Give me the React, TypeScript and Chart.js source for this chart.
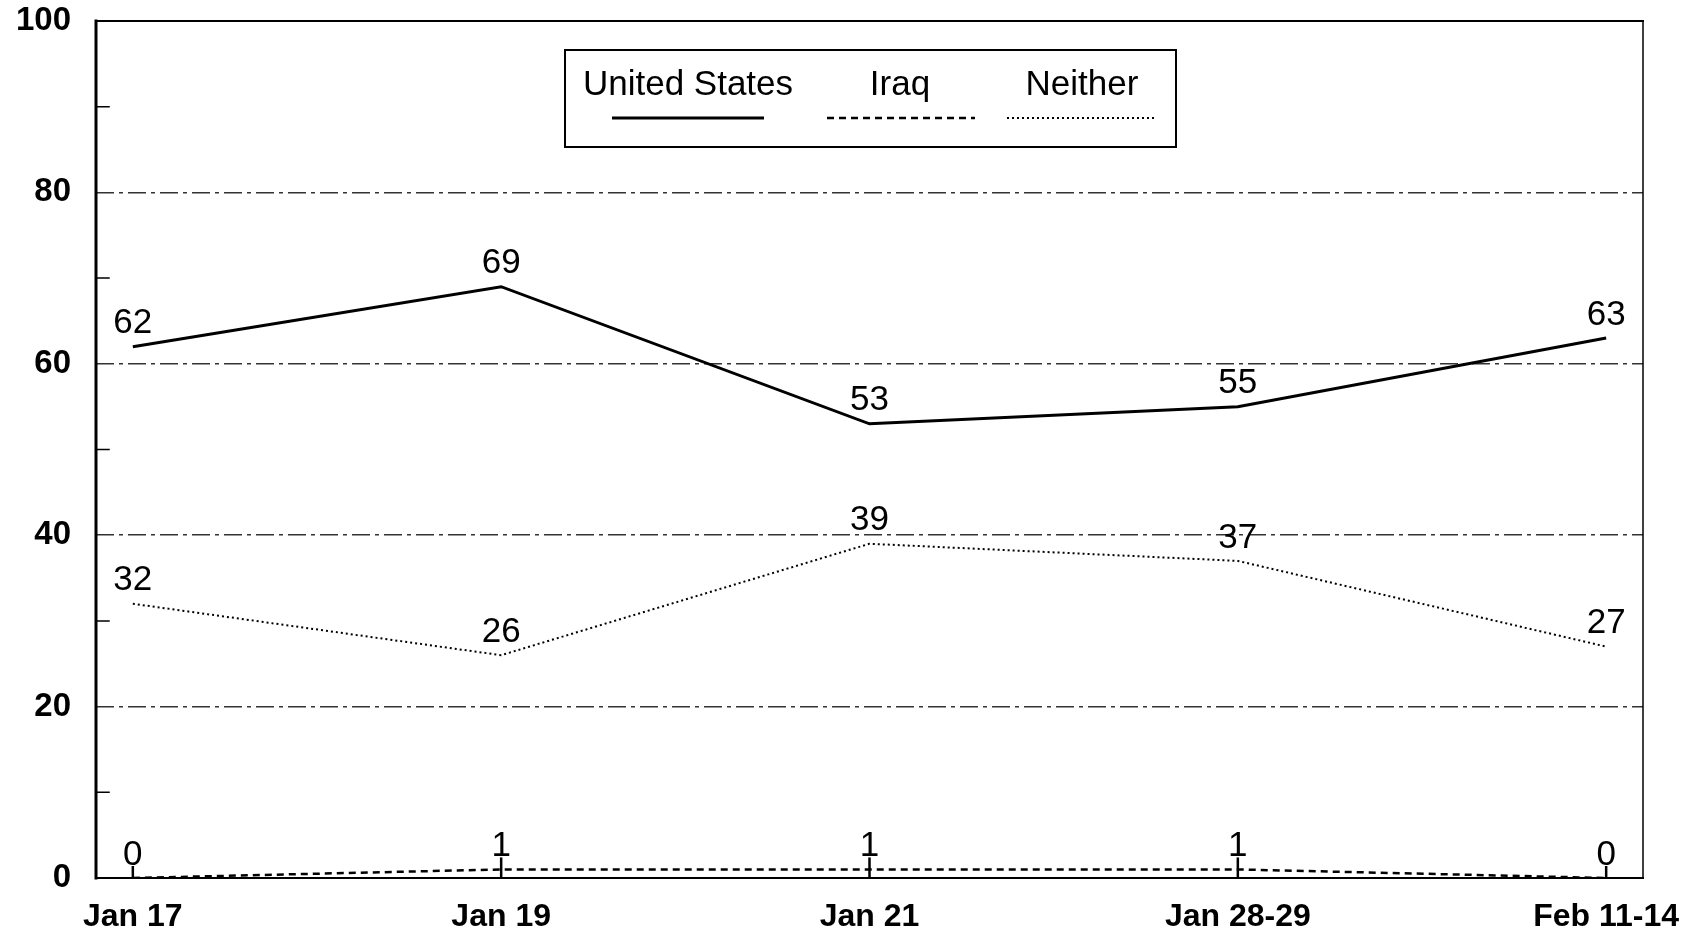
import { useEffect, useRef } from "react";
import { Chart, registerables } from "chart.js";

Chart.register(...registerables);

const categories = ["Jan 17", "Jan 19", "Jan 21", "Jan 28-29", "Feb 11-14"];
const seriesNames = ["United States", "Iraq", "Neither"];
const unitedStates = [62, 69, 53, 55, 63];
const iraq = [0, 1, 1, 1, 0];
const neither = [32, 26, 39, 37, 27];
const minorTicks = [10, 30, 50, 70, 90];

const FONT = '"Liberation Sans", Arial, Helvetica, sans-serif';

const framePlugin = {
  id: "frame",
  beforeDatasetsDraw(chart: any) {
    const { ctx, chartArea: a, scales } = chart;
    ctx.save();
    ctx.strokeStyle = "#000";
    ctx.lineCap = "square";
    ctx.lineWidth = 3;
    ctx.beginPath();
    ctx.moveTo(a.left, a.top);
    ctx.lineTo(a.left, a.bottom);
    ctx.stroke();
    ctx.lineWidth = 2;
    ctx.beginPath();
    ctx.moveTo(a.left, a.top);
    ctx.lineTo(a.right, a.top);
    ctx.moveTo(a.left, a.bottom);
    ctx.lineTo(a.right, a.bottom);
    ctx.stroke();
    ctx.lineWidth = 1.5;
    ctx.beginPath();
    ctx.moveTo(a.right, a.top);
    ctx.lineTo(a.right, a.bottom);
    ctx.stroke();
    ctx.lineWidth = 1.5;
    ctx.beginPath();
    for (const v of minorTicks) {
      const y = scales.y.getPixelForValue(v);
      ctx.moveTo(a.left, y);
      ctx.lineTo(a.left + 13, y);
    }
    ctx.stroke();
    ctx.restore();
  },
};

const labelPlugin = {
  id: "pointLabels",
  afterDatasetsDraw(chart: any) {
    const { ctx, chartArea } = chart;
    ctx.save();
    ctx.fillStyle = "#000";
    ctx.strokeStyle = "#000";
    ctx.font = `35px ${FONT}`;
    ctx.textAlign = "center";
    ctx.textBaseline = "middle";
    chart.data.datasets.forEach((ds: any, di: number) => {
      const meta = chart.getDatasetMeta(di);
      meta.data.forEach((pt: any, i: number) => {
        if (ds.stems) {
          ctx.lineWidth = 2.5;
          ctx.beginPath();
          ctx.moveTo(pt.x, Math.min(chartArea.bottom, pt.y + 8));
          ctx.lineTo(pt.x, pt.y - 12);
          ctx.stroke();
        }
        ctx.fillText(String(ds.data[i].y), pt.x, pt.y - 23);
      });
    });
    ctx.restore();
  },
};

const legendItems = [
  { cx: 688, x0: 612, x1: 764 },
  { cx: 900, x0: 827, x1: 975 },
  { cx: 1082, x0: 1007, x1: 1155 },
];

const legendPlugin = {
  id: "customLegend",
  afterDraw(chart: any) {
    const { ctx } = chart;
    ctx.save();
    ctx.strokeStyle = "#000";
    ctx.lineWidth = 2;
    ctx.strokeRect(565, 50, 611, 97);
    ctx.fillStyle = "#000";
    ctx.font = `35px ${FONT}`;
    ctx.textAlign = "center";
    ctx.textBaseline = "alphabetic";
    chart.data.datasets.forEach((ds: any, di: number) => {
      const it = legendItems[di];
      ctx.fillText(ds.label, it.cx, 95);
      ctx.save();
      ctx.lineWidth = ds.borderWidth;
      ctx.setLineDash(ds.borderDash || []);
      ctx.beginPath();
      ctx.moveTo(it.x0, 118);
      ctx.lineTo(it.x1, 118);
      ctx.stroke();
      ctx.restore();
    });
    ctx.restore();
  },
};

export default function App() {
  const ref = useRef<HTMLCanvasElement>(null);

  useEffect(() => {
    const toPts = (arr: number[]) => arr.map((v, i) => ({ x: i, y: v }));
    const chart = new Chart(ref.current!, {
      type: "line",
      data: {
        datasets: [
          {
            label: seriesNames[0],
            data: toPts(unitedStates),
            borderColor: "#000",
            borderWidth: 3,
            pointRadius: 0,
            tension: 0,
          },
          {
            label: seriesNames[1],
            data: toPts(iraq),
            borderColor: "#000",
            borderWidth: 2.5,
            borderDash: [7, 5],
            pointRadius: 0,
            stems: true,
            tension: 0,
          },
          {
            label: seriesNames[2],
            data: toPts(neither),
            borderColor: "#000",
            borderWidth: 2,
            borderDash: [2, 3],
            pointRadius: 0,
            tension: 0,
          },
        ],
      } as any,
      options: {
        animation: false,
        responsive: false,
        maintainAspectRatio: false,
        layout: { padding: { top: 21, right: 46, bottom: 0, left: 0 } },
        plugins: { legend: { display: false }, tooltip: { enabled: false } },
        scales: {
          x: {
            type: "linear",
            min: -0.1,
            max: 4.1,
            afterFit: (s: any) => {
              s.height = 58;
              s.paddingLeft = 0;
              s.paddingRight = 0;
            },
            ticks: {
              stepSize: 1,
              includeBounds: false,
              autoSkip: false,
              maxRotation: 0,
              minRotation: 0,
              padding: 20,
              color: "#000",
              font: { family: FONT, size: 32, weight: "bold" },
              callback: (v: any) => categories[v] ?? "",
            },
            grid: { display: false, drawTicks: false },
            border: { display: false },
          },
          y: {
            min: 0,
            max: 100,
            afterFit: (s: any) => {
              s.width = 96;
              s.paddingTop = 0;
              s.paddingBottom = 0;
            },
            ticks: {
              stepSize: 20,
              padding: 25,
              color: "#000",
              font: { family: FONT, size: 33, weight: "bold" },
            },
            grid: {
              drawTicks: false,
              lineWidth: 1.5,
              color: (c: any) =>
                c.tick && c.tick.value % 100 === 0 ? "rgba(0,0,0,0)" : "#333",
            },
            border: { display: false, dash: [18, 5, 4, 5] },
          },
        },
      } as any,
      plugins: [framePlugin, labelPlugin, legendPlugin],
    });
    return () => chart.destroy();
  }, []);

  return (
    <div style={{ position: "fixed", left: 0, top: 0, width: 1689, height: 936, background: "#fff" }}>
      <canvas ref={ref} width={1689} height={936} />
    </div>
  );
}
